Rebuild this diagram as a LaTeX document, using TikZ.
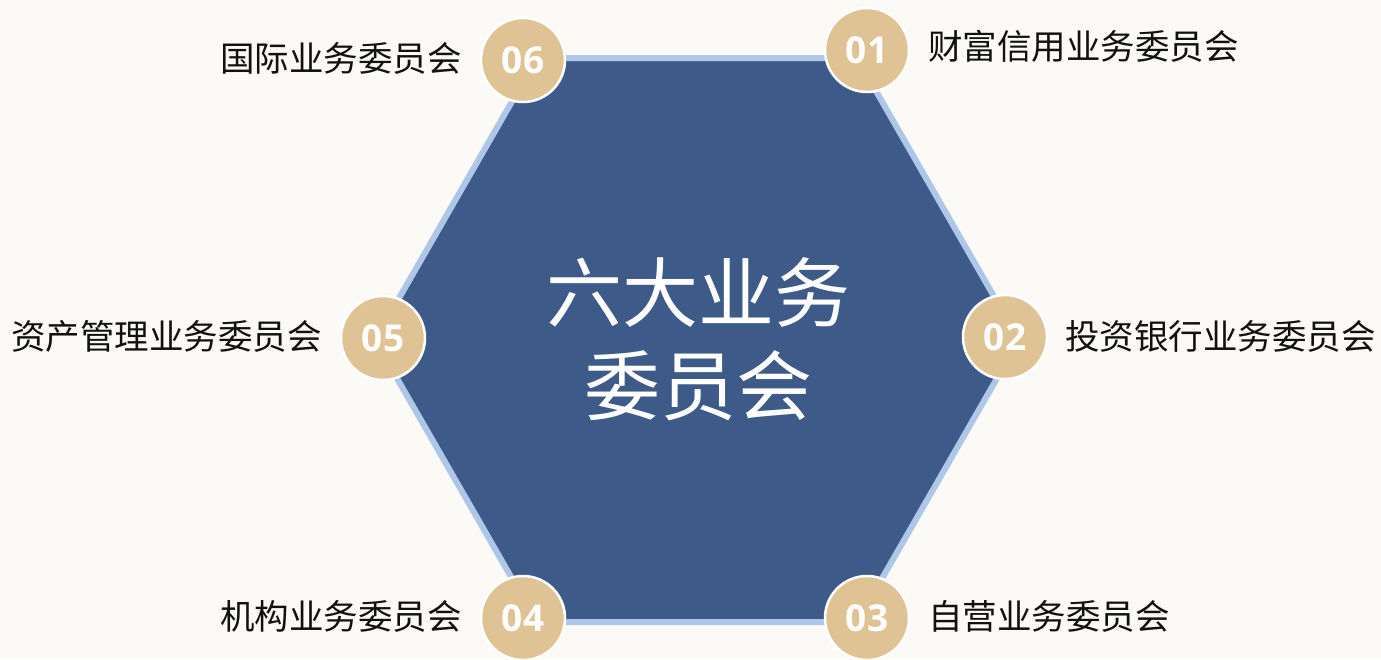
\documentclass[tikz,border=0pt]{standalone}
\usepackage{fontspec}
\newfontfamily\cjk{Noto Sans CJK SC}
\newfontfamily\numfont{Open Sans}
\definecolor{bgc}{HTML}{FBFAF6}
\definecolor{hexfill}{HTML}{3D5A88}
\definecolor{hexline}{HTML}{AEC6E8}
\definecolor{tan}{HTML}{E0C395}
\definecolor{txt}{HTML}{111111}
\begin{document}
\begin{tikzpicture}[x=1pt,y=-1pt,
  numcircle/.style={circle, fill=tan, draw=white, line width=2.5pt, minimum size=84pt, inner sep=0pt,
    font=\numfont\bfseries\fontsize{37}{42}\selectfont, text=white},
  lbl/.style={inner sep=0pt, font=\cjk\fontsize{34.5}{40}\selectfont, text=txt},
  centertext/.style={align=center, text=white, font=\cjk\fontsize{76}{93}\selectfont}]
\fill[bgc] (0,0) rectangle (1381,659);
\useasboundingbox (0,0) rectangle (1381,659);
% hexagon
\coordinate (hL) at (375,340);
\coordinate (hTL) at (537,58);
\coordinate (hTR) at (857,58);
\coordinate (hR) at (1019,340);
\coordinate (hBR) at (857,622);
\coordinate (hBL) at (537,622);
\draw[fill=hexfill, draw=hexline, line width=6pt, line join=miter]
  (hL) -- (hTL) -- (hTR) -- (hR) -- (hBR) -- (hBL) -- cycle;
\node[centertext] (title) at (698,339) {六大业务\\委员会};
% circles
\node[numcircle] (c1) at (867,50) {01};
\node[numcircle] (c2) at (1005,337) {02};
\node[numcircle] (c3) at (867,618) {03};
\node[numcircle] (c4) at (523,618) {04};
\node[numcircle] (c5) at (383,338) {05};
\node[numcircle] (c6) at (523,60) {06};
% labels
\node[lbl, anchor=west] (l1) at (928,46) {财富信用业务委员会};
\node[lbl, anchor=west] (l2) at (1065,336) {投资银行业务委员会};
\node[lbl, anchor=west] (l3) at (928,616) {自营业务委员会};
\node[lbl, anchor=east] (l4) at (462,616) {机构业务委员会};
\node[lbl, anchor=east] (l5) at (322,336) {资产管理业务委员会};
\node[lbl, anchor=east] (l6) at (462,58) {国际业务委员会};
\end{tikzpicture}
\end{document}
